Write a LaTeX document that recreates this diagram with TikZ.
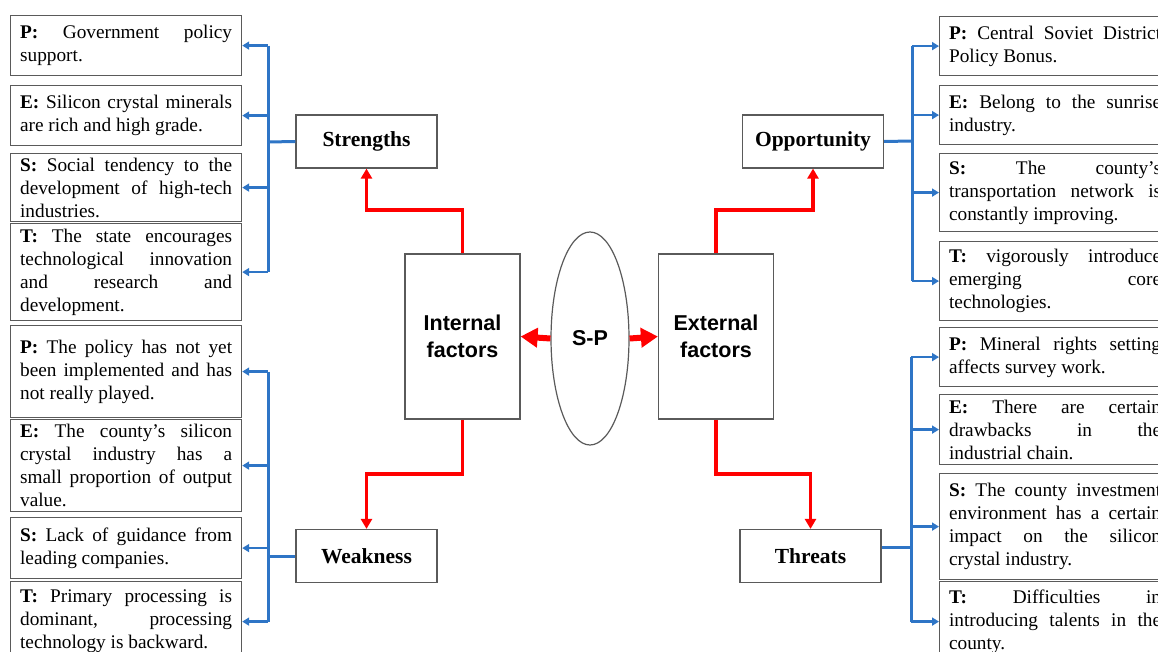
\documentclass[tikz,border=0pt]{standalone}
\usepackage{fontspec}
\setmainfont{Liberation Serif}
\setsansfont{Liberation Sans}
\usetikzlibrary{arrows.meta,shapes.geometric}
\definecolor{busblue}{RGB}{46,117,198}
\definecolor{linkred}{RGB}{255,0,0}
\definecolor{edgegray}{RGB}{90,90,90}
\tolerance=10000
\hyphenpenalty=10000
\hbadness=10000
\newcommand\itemtext[1]{\parbox{212pt}{#1}}

\begin{document}
\begin{tikzpicture}[x=1pt,y=-1pt,
item/.style={draw=edgegray, line width=1.2pt, anchor=north west, minimum width=231pt,
  inner xsep=9.5pt, inner ysep=2pt, font=\fontsize{19.3}{23}\selectfont},
head/.style={draw=edgegray, line width=1.2pt, minimum width=141pt, minimum height=53pt,
  inner sep=0pt, font=\fontsize{21.5}{25}\selectfont\bfseries},
factor/.style={draw=edgegray, line width=1.2pt, minimum width=115pt, minimum height=165pt,
  inner sep=0pt, align=center, font=\sffamily\bfseries\fontsize{21.5}{27}\selectfont},
link/.style={draw=linkred, line width=3.5pt, -{Triangle[length=10pt,width=11pt]}},
fatlink/.style={draw=linkred, line width=6pt, -{Triangle[length=17pt,width=19pt]}},
bus/.style={draw=busblue, line width=3pt},
tap/.style={draw=busblue, line width=2.6pt, -{Triangle[length=7pt,width=8pt]}}]
\useasboundingbox (0,0) rectangle (1158,652);
\clip (0,0) rectangle (1158,652);

\node[factor] (inner) at (462.5,336.5) {Internal\\factors};
\node[factor] (outer) at (716,336.5) {External\\factors};
\node[draw=edgegray, line width=1.2pt, ellipse, minimum width=78pt, minimum height=213pt,
  inner sep=0pt, font=\sffamily\bfseries\fontsize{21.5}{25}\selectfont] (sp) at (590,338.5) {S-P};

\node[head] (strengths) at (366.5,141.5) {Strengths};
\node[head] (weakness) at (366.5,556) {Weakness};
\node[head] (opportunity) at (813,141.5) {Opportunity};
\node[head] (threats) at (810.5,556) {Threats};

\node[item, minimum height=60pt] (sP) at (10,15) {\itemtext{\textbf{P:} Government policy\linebreak support.}};
\node[item, minimum height=60pt] (sE) at (10,85) {\itemtext{\textbf{E:} Silicon crystal minerals\linebreak are rich and high grade.}};
\node[item, minimum height=68pt] (sS) at (10,153) {\itemtext{\textbf{S:} Social tendency to the\linebreak development of high-tech\linebreak industries.}};
\node[item, minimum height=97pt] (sT) at (10,223) {\itemtext{\textbf{T:} The state encourages\linebreak technological innovation\linebreak and research and\linebreak development.}};
\node[item, minimum height=92pt] (wP) at (10,325) {\itemtext{\textbf{P:} The policy has not yet\linebreak been implemented and has\linebreak not really played.}};
\node[item, minimum height=92pt] (wE) at (10,419) {\itemtext{\textbf{E:} The county's silicon\linebreak crystal industry has a\linebreak small proportion of output\linebreak value.}};
\node[item, minimum height=61pt] (wS) at (10,517) {\itemtext{\textbf{S:} Lack of guidance from\linebreak leading companies.}};
\node[item, minimum height=80pt] (wT) at (10,581) {\itemtext{\textbf{T:} Primary processing is\linebreak dominant, processing\linebreak technology is backward.}};

\node[item, minimum height=59pt] (oP) at (939,16) {\itemtext{\textbf{P:} Central Soviet District\linebreak Policy Bonus.}};
\node[item, minimum height=59pt] (oE) at (939,85) {\itemtext{\textbf{E:} Belong to the sunrise\linebreak industry.}};
\node[item, minimum height=78pt] (oS) at (939,153) {\itemtext{\textbf{S:} The county's\linebreak transportation network is\linebreak constantly improving.}};
\node[item, minimum height=79pt] (oT) at (939,241) {\itemtext{\textbf{T:} vigorously introduce\linebreak emerging core\linebreak technologies.}};
\node[item, minimum height=59pt] (tP) at (939,327) {\itemtext{\textbf{P:} Mineral rights setting\linebreak affects survey work.}};
\node[item, minimum height=70pt] (tE) at (939,394) {\itemtext{\textbf{E:} There are certain\linebreak drawbacks in the\linebreak industrial chain.}};
\node[item, minimum height=106pt] (tS) at (939,473) {\itemtext{\textbf{S:} The county investment\linebreak environment has a certain\linebreak impact on the silicon\linebreak crystal industry.}};
\node[item, minimum height=80pt] (tT) at (939,581) {\itemtext{\textbf{T:} Difficulties in\linebreak introducing talents in the\linebreak county.}};

\draw[link] (inner.north) -- (inner.north |- 0,210) -| (strengths.south);
\draw[link] (inner.south) -- (inner.south |- 0,474) -| (weakness.north);
\draw[link] (outer.north) -- (outer.north |- 0,210) -| (opportunity.south);
\draw[link] (outer.south) -- (outer.south |- 0,474) -| (threats.north);
\draw[fatlink] (sp.west) -- (inner.east);
\draw[fatlink] (sp.east) -- (outer.west);

\coordinate (sbus) at (268,142);
\coordinate (wbus) at (268,556);
\coordinate (obus) at (912,141);
\coordinate (tbus) at (911,547);
\draw[bus] (strengths.west) -- (sbus);
\draw[bus] (weakness.west) -- (wbus);
\draw[bus] (opportunity.east) -- (obus);
\draw[bus] (threats.east |- tbus) -- (tbus);
\draw[bus] (sbus |- sP.east) -- (sbus |- sT.east);
\draw[bus] (wbus |- wP.east) -- (wbus |- wT.east);
\draw[bus] (obus |- oP.west) -- (obus |- oT.west);
\draw[bus] (tbus |- tP.west) -- (tbus |- tT.west);
\foreach \b in {sP,sE,sS,sT} \draw[tap] (sbus |- \b.east) -- (\b.east);
\foreach \b in {wP,wE,wS,wT} \draw[tap] (wbus |- \b.east) -- (\b.east);
\foreach \b in {oP,oE,oS,oT} \draw[tap] (obus |- \b.west) -- (\b.west);
\foreach \b in {tP,tE,tS,tT} \draw[tap] (tbus |- \b.west) -- (\b.west);
\end{tikzpicture}
\end{document}
